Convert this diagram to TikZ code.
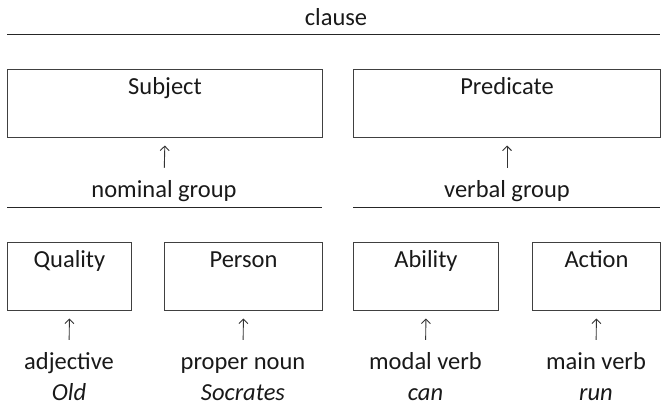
\documentclass[tikz,border=0pt]{standalone}
\usepackage{fontspec}
\setmainfont{Carlito}
\usepackage{tikz}
\usetikzlibrary{arrows.meta}

\tikzset{
  box/.style={draw=black!75, line width=1pt, inner sep=0pt, anchor=north west,
    text height=25pt, text depth=43pt},
  word/.style={inner sep=0pt, anchor=base, text height=17pt, text depth=5pt},
  up/.style={line width=0.9pt, black!80, -{Straight Barb[length=4.5pt,width=9pt]},
    shorten >=7.5pt, shorten <=12pt},
  rule/.style={line width=1pt, black!85}
}

\begin{document}
\begin{tikzpicture}[x=1pt, y=-1pt, font=\fontsize{24.5}{29}\selectfont, text=black!90]
  \useasboundingbox (0,0) rectangle (661,405);

  % clause
  \node[word] (clause) at (336,25) {clause};
  \draw[rule] (7,34) -- (660,34);

  % subject and predicate
  \node[box, minimum width=315pt] (subj) at (7,69) {Subject};
  \node[box, minimum width=307pt] (pred) at (353,69) {Predicate};

  \node[word] (ngroup) at (164,197) {nominal group};
  \node[word] (vgroup) at (507,197) {verbal group};
  \draw[up] (ngroup.north) -- (subj.south);
  \draw[up] (vgroup.north) -- (pred.south);

  \draw[rule] (7,207) -- (322,207);
  \draw[rule] (353,207) -- (660,207);

  % word classes
  \node[box, minimum width=124pt] (qual) at (7,242) {Quality};
  \node[box, minimum width=158pt] (pers) at (164,242) {Person};
  \node[box, minimum width=145pt] (abil) at (353,242) {Ability};
  \node[box, minimum width=128pt] (act) at (532,242) {Action};

  \node[word] (adj) at (69,369) {adjective};
  \node[word] (noun) at (243,369) {proper noun};
  \node[word] (modal) at (425.5,369) {modal verb};
  \node[word] (mverb) at (596,369) {main verb};
  \draw[up] (adj.north) -- (qual.south);
  \draw[up] (noun.north) -- (pers.south);
  \draw[up] (modal.north) -- (abil.south);
  \draw[up] (mverb.north) -- (act.south);

  \node[word] (old) at (69,400) {\itshape Old};
  \node[word] (socr) at (243,400) {\itshape Socrates};
  \node[word] (can) at (425.5,400) {\itshape can};
  \node[word] (run) at (596,400) {\itshape run};
\end{tikzpicture}
\end{document}
